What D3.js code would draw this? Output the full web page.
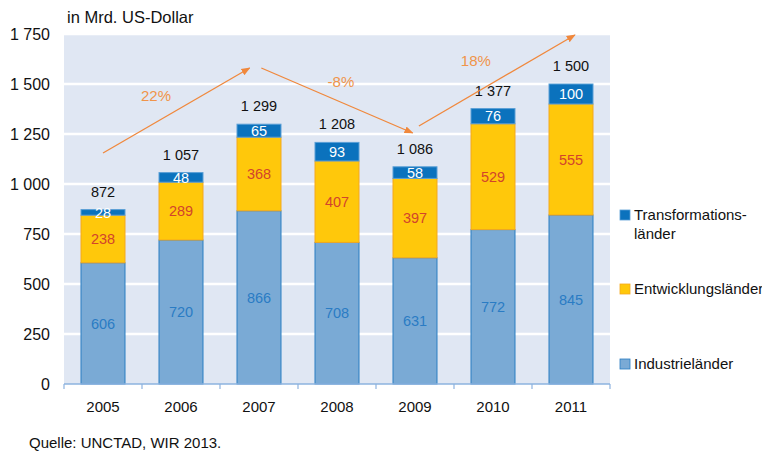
<!DOCTYPE html>
<html><head><meta charset="utf-8">
<script src="https://cdn.jsdelivr.net/npm/d3@7"></script>
<style>
html,body{margin:0;padding:0;background:#fff;}
svg text{font-family:"Liberation Sans",Arial,sans-serif;}
</style></head>
<body>
<svg id="chart" width="762" height="453"></svg>
<script>
const years = ["2005","2006","2007","2008","2009","2010","2011"];
const industrie = [606,720,866,708,631,772,845];
const entwicklung = [238,289,368,407,397,529,555];
const transformation = [28,48,65,93,58,76,100];
const totals = [872,1057,1299,1208,1086,1377,1500];
const yTicks = [0,250,500,750,1000,1250,1500,1750];
const seriesNames = ["Industrieländer","Entwicklungsländer","Transformationsländer"];
// growth arrows: positions in year-index units and values
const trends = [
  {x0:0, v0:1155, x1:1.88, v1:1580, label:"22%", lx:0.68, lv:1440},
  {x0:2.03, v0:1580, x1:3.97, v1:1255, label:"-8%", lx:3.05, lv:1510},
  {x0:4.05, v0:1290, x1:6.05, v1:1745, label:"18%", lx:4.78, lv:1615}
];

(function(){
const svg = d3.select("#chart");
const L=64, R=610, T=34, B=384;
const x = d3.scaleBand().domain(years).range([L,R]).paddingInner(0.436).paddingOuter(0.218);
const y = d3.scaleLinear().domain([0,1750]).range([B,T]);
const step = x.step();
const xc = i => L + step*(i+0.5);
const fmt = d => d3.format(",")(d).replace(",", " ");

svg.append("rect").attr("x",L).attr("y",T).attr("width",R-L).attr("height",B-T).attr("fill","#e0e7f3");
svg.append("g").selectAll("line").data(yTicks.filter(d=>d>0)).join("line")
  .attr("x1",L).attr("x2",R).attr("y1",d=>y(d)).attr("y2",d=>y(d))
  .attr("stroke","#fff").attr("stroke-width",2.6);

svg.append("g").selectAll("text").data(yTicks).join("text")
  .attr("x",50).attr("y",d=>y(d)).attr("dy","0.36em").attr("text-anchor","end")
  .attr("font-size",16).attr("fill","#111").text(fmt);

svg.append("text").attr("x",67).attr("y",23).attr("font-size",16.5).attr("fill","#111").text("in Mrd. US-Dollar");

const stackData = years.map((yr,i)=>({year:yr, i, ind:industrie[i], ent:entwicklung[i], tra:transformation[i]}));
const stack = d3.stack().keys(["ind","ent","tra"])(stackData);
const fills = {ind:"#7aaad5", ent:"#ffc80b", tra:"#0b72bd"};
const strokes = {ind:"#2a7dc2", ent:"#f4a81e", tra:"#5a9fd6"};
const labelCol = {ind:"#2a7cc4", ent:"#d2442b", tra:"#ffffff"};

stack.forEach(s=>{
  const g = svg.append("g");
  g.selectAll("rect").data(s).join("rect")
    .attr("x",d=>x(d.data.year)).attr("width",x.bandwidth())
    .attr("y",d=>y(d[1])).attr("height",d=>y(d[0])-y(d[1]))
    .attr("fill",fills[s.key]).attr("stroke",strokes[s.key]).attr("stroke-width",1);
  g.selectAll("text").data(s).join("text")
    .attr("x",d=>x(d.data.year)+x.bandwidth()/2)
    .attr("y",d=>(y(d[0])+y(d[1]))/2).attr("dy","0.36em")
    .attr("text-anchor","middle").attr("font-size",14.5).attr("fill",labelCol[s.key])
    .text(d=>d.data[s.key]);
});

svg.append("g").selectAll("text").data(totals).join("text")
  .attr("x",(d,i)=>x(years[i])+x.bandwidth()/2).attr("y",d=>y(d)-13)
  .attr("text-anchor","middle").attr("font-size",14.5).attr("fill","#111").text(fmt);

svg.append("line").attr("x1",L).attr("x2",R).attr("y1",B).attr("y2",B).attr("stroke","#8db3df").attr("stroke-width",1.5);
svg.append("g").selectAll("line").data(d3.range(years.length+1)).join("line")
  .attr("x1",i=>L+step*i).attr("x2",i=>L+step*i).attr("y1",B).attr("y2",B+5)
  .attr("stroke","#8db3df").attr("stroke-width",1.2);
svg.append("g").selectAll("text").data(years).join("text")
  .attr("x",d=>x(d)+x.bandwidth()/2).attr("y",B+28).attr("text-anchor","middle")
  .attr("font-size",15).attr("fill","#111").text(d=>d);

const defs = svg.append("defs");
defs.append("marker").attr("id","arr").attr("viewBox","0 0 10 10").attr("refX",9).attr("refY",5)
  .attr("markerWidth",7).attr("markerHeight",7).attr("orient","auto")
  .append("path").attr("d","M0,1 L10,5 L0,9 Z").attr("fill","#f0883c");
const tg = svg.append("g");
tg.selectAll("line").data(trends).join("line")
  .attr("x1",d=>xc(d.x0)).attr("y1",d=>y(d.v0)).attr("x2",d=>xc(d.x1)).attr("y2",d=>y(d.v1))
  .attr("stroke","#f0883c").attr("stroke-width",1.3).attr("marker-end","url(#arr)");
tg.selectAll("text").data(trends).join("text")
  .attr("x",d=>xc(d.lx)).attr("y",d=>y(d.lv)).attr("dy","0.36em").attr("text-anchor","middle")
  .attr("font-size",15).attr("fill","#f0944a").text(d=>d.label);

const legend = [
  {key:"tra", lines:["Transformations-","länder"], y:215},
  {key:"ent", lines:["Entwicklungsländer"], y:289},
  {key:"ind", lines:["Industrieländer"], y:364}
];
const lg = svg.append("g");
legend.forEach(l=>{
  lg.append("rect").attr("x",620).attr("y",l.y-5).attr("width",10).attr("height",10)
    .attr("fill",fills[l.key]).attr("stroke",strokes[l.key]).attr("stroke-width",0.8);
  l.lines.forEach((t,j)=>{
    lg.append("text").attr("x",634).attr("y",l.y+j*19).attr("dy","0.36em")
      .attr("font-size",15).attr("fill","#111").text(t);
  });
});

svg.append("text").attr("x",29).attr("y",448).attr("font-size",15).attr("fill","#111").text("Quelle: UNCTAD, WIR 2013.");
})();
</script>
</body></html>
